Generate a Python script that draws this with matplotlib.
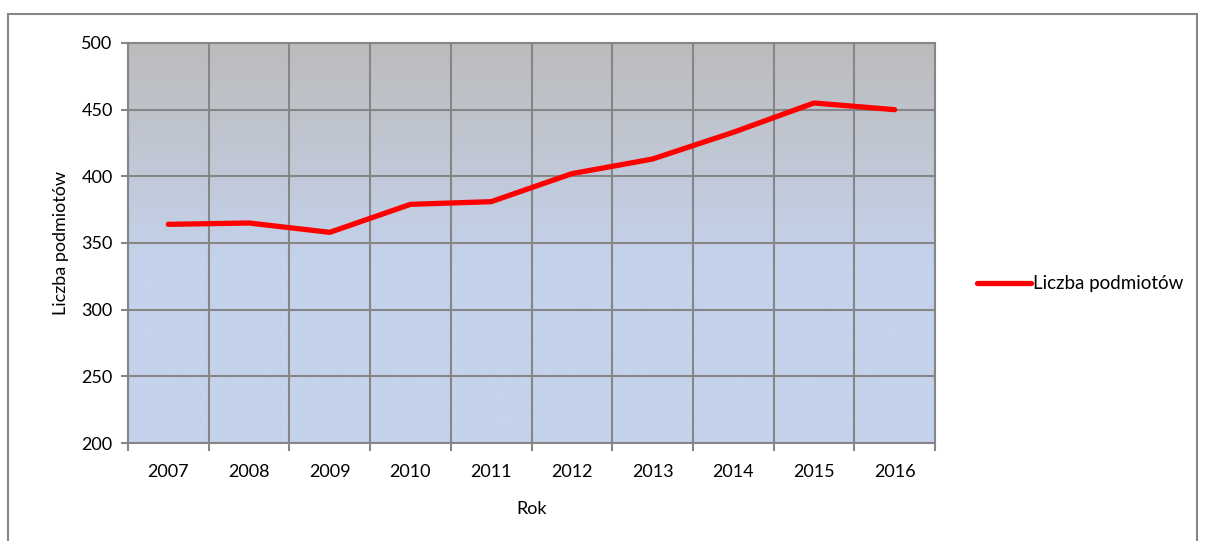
import numpy as np
import matplotlib.pyplot as plt
from matplotlib.patches import Rectangle
from matplotlib.colors import LinearSegmentedColormap

# dane
lata = ['2007', '2008', '2009', '2010', '2011', '2012', '2013', '2014', '2015', '2016']
liczba_podmiotow = [364, 365, 358, 379, 381, 402, 413, 433, 455, 450]

plt.rcParams['font.family'] = ['Lato', 'DejaVu Sans']

fig = plt.figure(figsize=(12.05, 5.41), dpi=100)
ax = fig.add_axes([128 / 1205, 1 - 443 / 541, 807 / 1205, 400 / 541])

# ramka wokół całego wykresu
fig.patches.append(Rectangle((8 / 1205, -0.01), 1189 / 1205, 1 - 14 / 541 + 0.01,
                             transform=fig.transFigure, fill=False,
                             edgecolor='#868686', linewidth=1.5))

x = np.arange(len(lata))
ax.set_xlim(-0.5, len(lata) - 0.5)
ax.set_ylim(200, 500)

# tło z gradientem (szary u góry -> niebieski)
cmap = LinearSegmentedColormap.from_list('tlo', [(0, '#c4d2ec'), (0.45, '#c4d2ec'), (1, '#bcbcbc')])
grad = np.linspace(0, 1, 256).reshape(-1, 1)
ax.imshow(grad, extent=(-0.5, len(lata) - 0.5, 200, 500), origin='lower',
          aspect='auto', cmap=cmap, zorder=0)

# siatka
for b in np.arange(-0.5, len(lata), 1):
    ax.axvline(b, color='#868686', linewidth=1.5, zorder=1)
for v in range(200, 501, 50):
    ax.axhline(v, color='#868686', linewidth=1.5, zorder=1)

ax.plot(x, liczba_podmiotow, color='#ff0000', linewidth=3.8,
        solid_capstyle='round', label='Liczba podmiotów', zorder=3)

ax.set_xticks(x)
ax.set_xticklabels(lata, fontsize=13)
ax.set_xticks(np.arange(-0.5, len(lata), 1), minor=True)
ax.tick_params(axis='x', which='major', length=0, pad=15)
ax.tick_params(axis='x', which='minor', length=6, width=1.5, color='#868686')
ax.set_yticks(range(200, 501, 50))
ax.tick_params(axis='y', length=5, width=1.5, color='#868686', labelsize=13, pad=6)

for s in ax.spines.values():
    s.set_color('#868686')
    s.set_linewidth(1.5)

ax.set_xlabel('Rok', fontsize=13, labelpad=15)
ax.set_ylabel('Liczba podmiotów', fontsize=13, labelpad=9)

fig.legend(loc='center left', bbox_to_anchor=(960 / 1205, 1 - 284 / 541),
           frameon=False, fontsize=13.5, handlelength=2.9, handletextpad=0.1)

plt.savefig('out.png', dpi=100)
